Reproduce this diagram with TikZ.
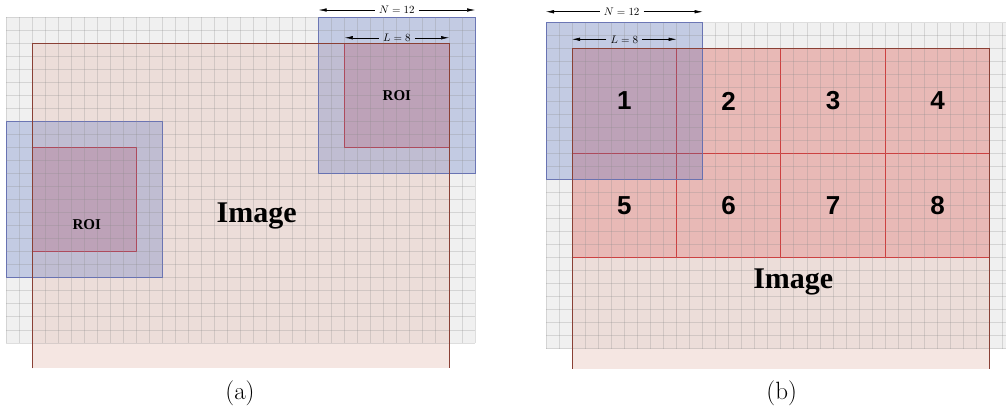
\documentclass[tikz,border=0pt]{standalone}
\usepackage{fontspec}
\newfontfamily\tnrfont{Liberation Serif}
\newfontfamily\arifont{Liberation Sans}
\usetikzlibrary{arrows.meta}
\definecolor{gridbg}{HTML}{F0F0F0}
\definecolor{gridln}{HTML}{8C8C8C}
\definecolor{imgfill}{HTML}{E6C2B8}
\definecolor{imgedge}{HTML}{8A4035}
\definecolor{roifill}{HTML}{E26868}
\definecolor{roiedge}{HTML}{E52525}
\definecolor{boxfill}{HTML}{4060C0}
\definecolor{boxedge}{HTML}{5060C0}
\tikzset{
  gridarea/.style={fill=gridbg},
  gridline/.style={draw=gridln, draw opacity=0.28, line width=1pt},
  imgbox/.style={fill=imgfill, fill opacity=0.4},
  imgborder/.style={draw=imgedge, line width=0.9pt},
  roibox/.style={fill=roifill, fill opacity=0.3, draw=roiedge, line width=0.9pt},
  bluebox/.style={fill=boxfill, fill opacity=0.25, draw=boxedge, draw opacity=0.9, line width=0.9pt},
  dimarrow/.style={-{Latex[length=8pt,width=3.5pt]}, line width=0.5pt, black},
  dimlabel/.style={inner sep=4pt, font=\fontsize{10.5}{10.5}\selectfont},
  roilabel/.style={inner sep=0pt, font=\tnrfont\bfseries\fontsize{15}{15}\selectfont},
  imglabel/.style={inner sep=0pt, font=\tnrfont\bfseries\fontsize{30}{30}\selectfont},
  numlabel/.style={inner sep=0pt, font=\arifont\bfseries\fontsize{26}{26}\selectfont},
  caplabel/.style={inner sep=0pt, font=\fontsize{25}{25}\selectfont}
}
\begin{document}
\begin{tikzpicture}[x=1pt, y=-1pt]
\clip (0,0) rectangle (1006,408);
\fill[white] (0,0) rectangle (1006,408);

% ---------------- panel (a) ----------------
\begin{scope}[shift={(6,17.3)}, x=13.03pt, y=-13.03pt]
  \fill[gridarea] (0,0) rectangle (36,25);
  \fill[imgbox] (2,2) rectangle (34,26.94);
  \draw[roibox] (26,2) rectangle (34,10);
  \draw[bluebox] (24,0) rectangle (36,12);
  \draw[roibox] (2,10) rectangle (10,18);
  \draw[bluebox] (0,8) rectangle (12,20);
  \foreach \c in {0,...,36} \draw[gridline] (\c,0) -- (\c,25);
  \foreach \r in {0,...,25} \draw[gridline] (0,\r) -- (36,\r);
  \draw[imgborder] (2,26.94) -- (2,2) -- (34,2) -- (34,26.94);
  \node[roilabel] (roiA) at (30,6) {ROI};
  \node[roilabel] (roiB) at (6.2,15.9) {ROI};
  \node[imglabel] (imgA) at (19.24,15.25) {Image};
  % N = 12
  \coordinate (aNl) at (24,-0.56);
  \coordinate (aNr) at (36,-0.56);
  \node[dimlabel] (aN) at (30,-0.56) {$N=12$};
  \draw[dimarrow] (aN.west) -- (aNl);
  \draw[dimarrow] (aN.east) -- (aNr);
  % L = 8
  \coordinate (aLl) at (26,1.57);
  \coordinate (aLr) at (34,1.57);
  \node[dimlabel] (aL) at (30,1.57) {$L=8$};
  \draw[dimarrow] (aL.west) -- (aLl);
  \draw[dimarrow] (aL.east) -- (aLr);
\end{scope}

% ---------------- panel (b) ----------------
\begin{scope}[shift={(546,22.7)}, x=13.05pt, y=-13.05pt]
  \fill[gridarea] (0,0) rectangle (36,25);
  \fill[imgbox] (2,2) rectangle (34,26.52);
  \foreach \i in {0,...,3}
    \foreach \j in {0,1}
      \draw[roibox] ({2+8*\i},{2+8*\j}) rectangle ({10+8*\i},{10+8*\j});
  \draw[bluebox] (0,0) rectangle (12,12);
  \foreach \c in {0,...,36} \draw[gridline] (\c,0) -- (\c,25);
  \foreach \r in {0,...,25} \draw[gridline] (0,\r) -- (36,\r);
  \draw[imgborder] (2,26.52) -- (2,2) -- (34,2) -- (34,26.52);
  \node[numlabel] (t1) at (6,6) {1};
  \node[numlabel] (t2) at (14,6) {2};
  \node[numlabel] (t3) at (22,6) {3};
  \node[numlabel] (t4) at (30,6) {4};
  \node[numlabel] (t5) at (6,14) {5};
  \node[numlabel] (t6) at (14,14) {6};
  \node[numlabel] (t7) at (22,14) {7};
  \node[numlabel] (t8) at (30,14) {8};
  \node[imglabel] (imgB) at (18.95,19.85) {Image};
  % N = 12
  \coordinate (bNl) at (0,-0.84);
  \coordinate (bNr) at (12,-0.84);
  \node[dimlabel] (bN) at (5.8,-0.84) {$N=12$};
  \draw[dimarrow] (bN.west) -- (bNl);
  \draw[dimarrow] (bN.east) -- (bNr);
  % L = 8
  \coordinate (bLl) at (2,1.27);
  \coordinate (bLr) at (10,1.27);
  \node[dimlabel] (bL) at (6,1.27) {$L=8$};
  \draw[dimarrow] (bL.west) -- (bLl);
  \draw[dimarrow] (bL.east) -- (bLr);
\end{scope}

% ---------------- captions ----------------
\node[caplabel] (capA) at (240,393) {(a)};
\node[caplabel] (capB) at (781.7,393) {(b)};
\end{tikzpicture}
\end{document}
